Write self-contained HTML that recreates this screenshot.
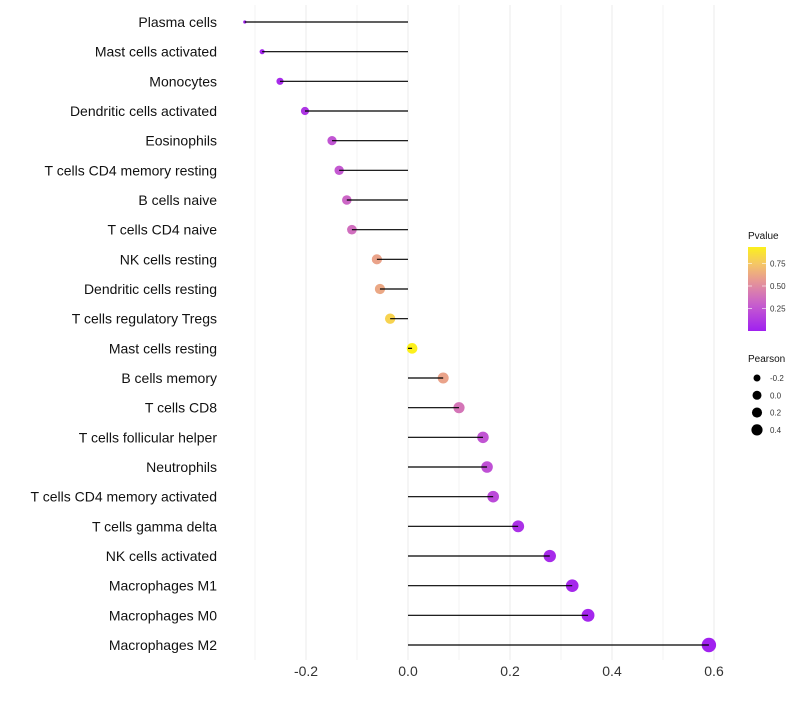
<!DOCTYPE html>
<html><head><meta charset="utf-8"><style>
body{margin:0;background:#fff;font-family:"Liberation Sans",sans-serif}
</style></head><body>
<svg id="c" width="800" height="700" xmlns="http://www.w3.org/2000/svg"></svg>
<script>
const categories=["Plasma cells","Mast cells activated","Monocytes","Dendritic cells activated","Eosinophils","T cells CD4 memory resting","B cells naive","T cells CD4 naive","NK cells resting","Dendritic cells resting","T cells regulatory  Tregs ","Mast cells resting","B cells memory","T cells CD8","T cells follicular helper","Neutrophils","T cells CD4 memory activated","T cells gamma delta","NK cells activated","Macrophages M1","Macrophages M0","Macrophages M2"];
const pearson=[-0.32,-0.286,-0.251,-0.202,-0.149,-0.135,-0.12,-0.11,-0.061,-0.055,-0.035,0.008,0.069,0.1,0.147,0.155,0.167,0.216,0.278,0.322,0.353,0.59];
const pvalue=[0.01,0.03,0.05,0.1,0.25,0.27,0.33,0.37,0.6,0.62,0.8,0.93,0.6,0.4,0.25,0.23,0.2,0.08,0.05,0.04,0.03,0.005];
const xTicks=[-0.2,0,0.2,0.4,0.6];
const xTickLabels=["-0.2","0.0","0.2","0.4","0.6"];
const sizeLegend=[-0.2,0,0.2,0.4];
const colorLegendTicks=[0.25,0.5,0.75];

const svg=document.getElementById('c');const NS="http://www.w3.org/2000/svg";
function mk(t,a,p){const e=document.createElementNS(NS,t);for(const k in a)e.setAttribute(k,a[k]);(p||svg).appendChild(e);return e;}
const x=v=>408+v*510;
const y=i=>22+i*(623/21);
const sizeKnots=[[-0.32,1.6],[-0.25,3.6],[-0.15,4.6],[-0.06,5.1],[0.1,5.6],[0.59,7.2]];
function r(v){if(v<=sizeKnots[0][0])return sizeKnots[0][1];
 for(let i=1;i<sizeKnots.length;i++){if(v<=sizeKnots[i][0]){const [a,ra]=sizeKnots[i-1],[b,rb]=sizeKnots[i];return ra+(rb-ra)*(v-a)/(b-a);}}
 return sizeKnots[sizeKnots.length-1][1];}
function col(p){const stops=[[0,[160,32,240]],[0.3,[200,95,205]],[0.55,[230,150,150]],[0.75,[245,200,100]],[1,[255,255,0]]];
 for(let i=1;i<stops.length;i++){if(p<=stops[i][0]){const [a,ca]=stops[i-1],[b,cb]=stops[i];const t=(p-a)/(b-a);return 'rgb('+ca.map((c,j)=>Math.round(c+(cb[j]-c)*t)).join(',')+')';}}return 'rgb(255,255,0)';}
for(let v=-0.3;v<=0.65;v+=0.1){const major=xTicks.some(t=>Math.abs(t-v)<1e-6);
 const g=mk('line',{x1:x(v),x2:x(v),y1:5,y2:660,stroke:'#ebebeb','stroke-width':major?1:0.6});
 
 }
xTicks.forEach((t,i)=>{const e=mk('text',{x:x(t),y:676,'text-anchor':'middle','font-size':14,fill:'#333'});e.textContent=xTickLabels[i];
 
 });
categories.forEach((c,i)=>{
 const l=mk('text',{x:217,y:y(i)+5,'text-anchor':'end','font-size':14,fill:'#111'});l.textContent=c;
 
 
 const p=mk('circle',{cx:x(pearson[i]),cy:y(i),r:r(pearson[i]),fill:col(pvalue[i])});
 
 
 const s=mk('line',{x1:x(0),x2:x(pearson[i]),y1:y(i),y2:y(i),stroke:'#000','stroke-width':1.2});
 
 
});
const defs=mk('defs',{});const lg=mk('linearGradient',{id:'g',x1:0,y1:1,x2:0,y2:0},defs);
for(let k=0;k<=10;k++){mk('stop',{offset:k/10,'stop-color':col(k/10*0.93)},lg);}
const lt=mk('text',{x:748,y:239,'font-size':10,fill:'#111'});lt.textContent='Pvalue';


const bar=mk('rect',{x:748,y:247,width:18,height:84,fill:'url(#g)'});


colorLegendTicks.forEach(t=>{const yy=331-t/0.25*22.5;
 mk('line',{x1:748,x2:752,y1:yy,y2:yy,stroke:'#fff','stroke-opacity':0.6});mk('line',{x1:762,x2:766,y1:yy,y2:yy,stroke:'#fff','stroke-opacity':0.6});
 const e=mk('text',{x:770,y:yy+3,'font-size':8,fill:'#333'});e.textContent=t.toFixed(2);
 
 });
const st=mk('text',{x:748,y:362,'font-size':10,fill:'#111'});st.textContent='Pearson';


sizeLegend.forEach((v,i)=>{const yy=378+i*17.3;
 const c=mk('circle',{cx:757,cy:yy,r:r(v)*0.85,fill:'#000'});
 
 
 const e=mk('text',{x:770,y:yy+3,'font-size':8,fill:'#333'});e.textContent=v.toFixed(1);
 
 });
</script>
</body></html>
